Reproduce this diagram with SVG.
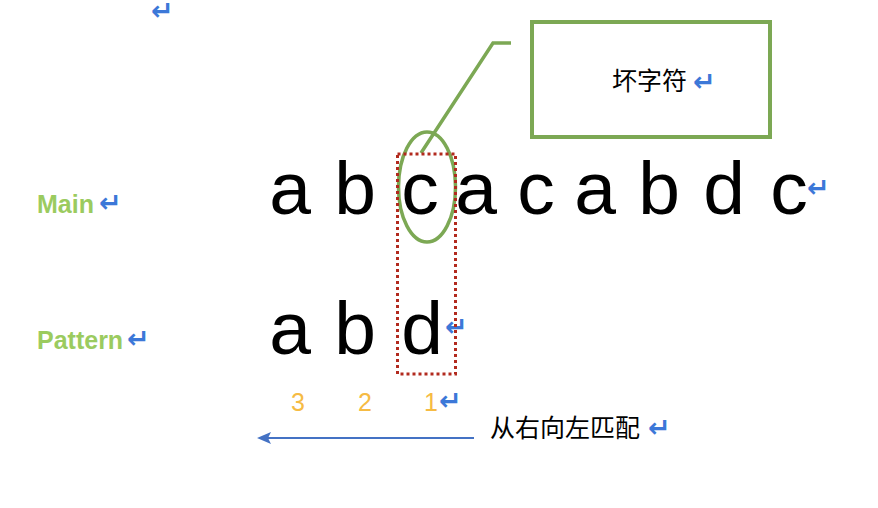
<svg xmlns="http://www.w3.org/2000/svg" width="878" height="508" viewBox="0 0 878 508">
<style>
.big{font-family:"Liberation Sans",Arial,sans-serif;font-size:75px;fill:#000;text-anchor:middle}
.lbl{font-family:"Liberation Sans",Arial,sans-serif;font-size:25px;font-weight:bold;fill:#9BCB5F}
.num{font-family:"Liberation Sans",Arial,sans-serif;font-size:25px;fill:#F6BB43;text-anchor:middle}
.cjk{font-family:"Noto Sans CJK SC",sans-serif;font-size:25px;fill:#000}
.ret{font-family:"DejaVu Sans",sans-serif;font-size:27px;fill:#3C78D8;font-weight:bold}
</style>
<text class="ret" x="151" y="20">↵</text>
<g id="callout">
<rect x="532" y="22" width="238" height="115" fill="#fff" stroke="#7CA854" stroke-width="4"/>
<text class="cjk" x="612" y="90">坏字符</text>
<text class="ret" x="693" y="91">↵</text>
</g>
<g id="connectors">
<polyline points="511,43 493,43 421,153" fill="none" stroke="#7CA854" stroke-width="3.5"/>
<line x1="474" y1="438" x2="268" y2="438" stroke="#4472C4" stroke-width="2"/>
<polygon points="257,438 271,432 268,438 271,444" fill="#4472C4"/>
</g>
<g id="main-label">
<text class="lbl" x="37" y="213">Main</text>
<text class="ret" x="99" y="212">↵</text>
</g>
<g id="pattern-label">
<text class="lbl" x="37" y="349">Pattern</text>
<text class="ret" x="127" y="348">↵</text>
</g>
<g id="main-string">
<text class="big" y="214"><tspan x="290">a</tspan><tspan x="355">b</tspan><tspan x="420">c</tspan><tspan x="476">a</tspan><tspan x="536">c</tspan><tspan x="595">a</tspan><tspan x="659">b</tspan><tspan x="724">d</tspan><tspan x="789">c</tspan></text>
<text class="ret" x="807" y="197">↵</text>
</g>
<g id="pattern-string">
<text class="big" y="354"><tspan x="290">a</tspan><tspan x="355">b</tspan><tspan x="422">d</tspan></text>
<text class="ret" x="445" y="336">↵</text>
</g>
<g id="bad-char-ellipse">
<ellipse cx="427" cy="187" rx="28.5" ry="55" fill="none" stroke="#7CA854" stroke-width="3.5"/>
</g>
<g id="compare-box">
<rect x="397.5" y="154" width="58" height="220" fill="none" stroke="#B22A1E" stroke-width="3" stroke-dasharray="3,3"/>
</g>
<g id="indices">
<text class="num" x="298" y="411">3</text>
<text class="num" x="365" y="411">2</text>
<text class="num" x="431" y="411">1</text>
<text class="ret" x="439" y="410">↵</text>
</g>
<g id="direction-label">
<text class="cjk" x="490" y="437">从右向左匹配</text>
<text class="ret" x="648" y="437">↵</text>
</g>
</svg>
